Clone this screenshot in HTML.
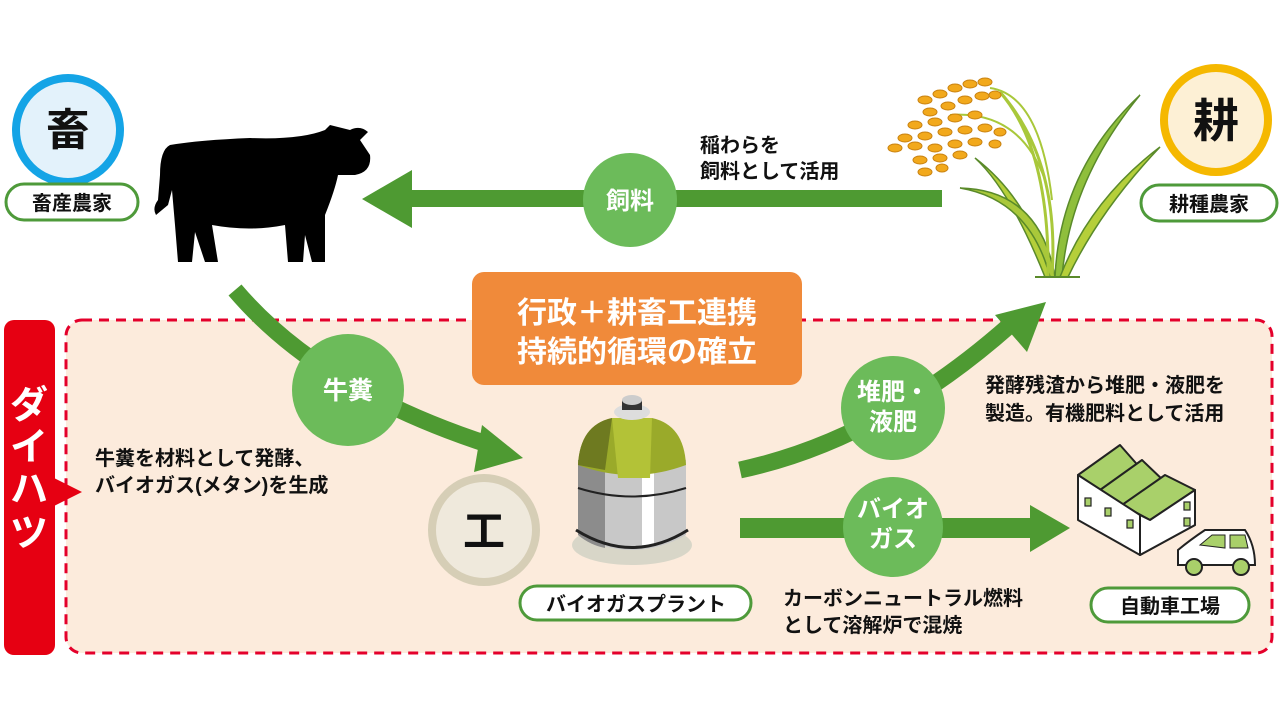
<!DOCTYPE html>
<html><head><meta charset="utf-8"><style>
html,body{margin:0;padding:0;background:#fff;}
svg{display:block;}
text{font-family:"Liberation Sans","Noto Sans CJK JP",sans-serif;font-weight:bold;}
</style></head><body>
<svg width="1280" height="720" viewBox="0 0 1280 720" xmlns="http://www.w3.org/2000/svg">
<rect x="66" y="320" width="1206" height="333" rx="16" fill="#fcebdc" stroke="#e4002b" stroke-width="3" stroke-dasharray="10,7"/>
<rect x="4" y="320" width="51" height="335" rx="10" fill="#e60012"/>
<polygon points="54,478 82,492 54,506" fill="#e60012"/>
<text x="29" y="418" font-size="38" fill="#fff" text-anchor="middle">ダ</text>
<text x="29" y="460" font-size="38" fill="#fff" text-anchor="middle">イ</text>
<text x="29" y="502" font-size="38" fill="#fff" text-anchor="middle">ハ</text>
<text x="29" y="546" font-size="38" fill="#fff" text-anchor="middle">ツ</text>

<circle cx="68" cy="130" r="52" fill="#e3f2fb" stroke="#14a4e6" stroke-width="8"/>
<text x="68" y="145" font-size="44" text-anchor="middle" fill="#111">畜</text>
<rect x="6" y="184" width="132" height="36" rx="18" fill="#fff" stroke="#4e9a3a" stroke-width="3"/>
<text x="72" y="210" font-size="20" text-anchor="middle" fill="#111">畜産農家</text>

<path d="M170,145 Q160,150 160,175 L158,200 Q152,208 156,215 Q162,210 168,205 L172,190 L175,225 L178,262 L192,262 L195,232 L205,262 L218,262 L212,225 Q250,232 285,225 L288,262 L303,262 L305,235 L312,262 L325,262 L325,215 Q335,190 338,175 L355,175 Q372,172 370,155 L360,140 L368,132 Q360,125 350,130 L330,125 L325,130 Q300,140 250,138 Q200,140 170,145 Z" fill="#000"/>

<circle cx="1216" cy="120" r="52" fill="#fdf0d5" stroke="#f5b800" stroke-width="8"/>
<text x="1216" y="137" font-size="46" text-anchor="middle" fill="#111">耕</text>
<rect x="1141" y="185" width="136" height="36" rx="18" fill="#fff" stroke="#4e9a3a" stroke-width="3"/>
<text x="1209" y="211" font-size="20" text-anchor="middle" fill="#111">耕種農家</text>

<g stroke="#5a8a2a" stroke-width="1.5">
<path d="M1050,277 Q1030,200 975,158 Q1010,190 1045,277 Z" fill="#b5cf3a"/>
<path d="M1055,277 Q1040,190 960,188 Q1030,200 1050,277 Z" fill="#a9c83a"/>
<path d="M1055,277 Q1060,170 1140,95 Q1070,180 1062,277 Z" fill="#8fbf3c"/>
<path d="M1060,277 Q1090,200 1160,147 Q1100,210 1068,277 Z" fill="#b5cf3a"/>
<path d="M1052,277 Q1060,160 1000,92 Q1050,150 1048,277" fill="none" stroke="#a9c83a" stroke-width="3"/>
</g>
<path d="M990,88 Q1040,95 1052,200" fill="none" stroke="#a9c83a" stroke-width="2"/>
<path d="M950,115 Q1020,110 1045,180" fill="none" stroke="#a9c83a" stroke-width="2"/>
<line x1="1035" y1="277" x2="1080" y2="277" stroke="#5a8a2a" stroke-width="2"/>
<g fill="#f2a91c" stroke="#c98210" stroke-width="1">
<ellipse cx="925" cy="100" rx="7" ry="4"/><ellipse cx="940" cy="94" rx="7" ry="4"/><ellipse cx="955" cy="88" rx="7" ry="4"/><ellipse cx="970" cy="84" rx="7" ry="4"/><ellipse cx="985" cy="82" rx="7" ry="4"/>
<ellipse cx="930" cy="112" rx="7" ry="4"/><ellipse cx="948" cy="106" rx="7" ry="4"/><ellipse cx="965" cy="100" rx="7" ry="4"/><ellipse cx="982" cy="96" rx="7" ry="4"/><ellipse cx="995" cy="95" rx="6" ry="4"/>
<ellipse cx="915" cy="125" rx="7" ry="4"/><ellipse cx="935" cy="122" rx="7" ry="4"/><ellipse cx="955" cy="118" rx="7" ry="4"/><ellipse cx="975" cy="115" rx="7" ry="4"/>
<ellipse cx="905" cy="138" rx="7" ry="4"/><ellipse cx="925" cy="136" rx="7" ry="4"/><ellipse cx="945" cy="132" rx="7" ry="4"/><ellipse cx="965" cy="130" rx="7" ry="4"/><ellipse cx="985" cy="128" rx="7" ry="4"/><ellipse cx="1000" cy="132" rx="6" ry="4"/>
<ellipse cx="895" cy="148" rx="7" ry="4"/><ellipse cx="915" cy="146" rx="7" ry="4"/><ellipse cx="935" cy="148" rx="7" ry="4"/><ellipse cx="955" cy="144" rx="7" ry="4"/><ellipse cx="975" cy="142" rx="7" ry="4"/><ellipse cx="995" cy="144" rx="6" ry="4"/>
<ellipse cx="920" cy="160" rx="7" ry="4"/><ellipse cx="940" cy="158" rx="7" ry="4"/><ellipse cx="960" cy="155" rx="7" ry="4"/>
<ellipse cx="925" cy="172" rx="7" ry="4"/><ellipse cx="942" cy="168" rx="6" ry="4"/>
</g>

<rect x="405" y="190" width="537" height="17" fill="#4e9a32"/>
<polygon points="362,199 412,170 412,228" fill="#4e9a32"/>
<circle cx="630" cy="200" r="47" fill="#6cbb5a"/>
<text x="630" y="209" font-size="24" fill="#fff" text-anchor="middle">飼料</text>
<text x="700" y="152" font-size="20" fill="#111">稲わらを</text>
<text x="700" y="178" font-size="20" fill="#111">飼料として活用</text>

<path d="M235,290 Q320,390 490,445" fill="none" stroke="#4e9a32" stroke-width="17"/>
<polygon points="523,458 482,425 474,472" fill="#4e9a32"/>
<circle cx="348" cy="390" r="56" fill="#6cbb5a"/>
<text x="348" y="399" font-size="25" fill="#fff" text-anchor="middle">牛糞</text>
<text x="95" y="465" font-size="20" fill="#111">牛糞を材料として発酵、</text>
<text x="95" y="492" font-size="20" fill="#111">バイオガス(メタン)を生成</text>

<rect x="472" y="272" width="330" height="113" rx="12" fill="#f08a3a"/>
<text x="637" y="323" font-size="30" fill="#fff" text-anchor="middle">行政＋耕畜工連携</text>
<text x="637" y="362" font-size="30" fill="#fff" text-anchor="middle">持続的循環の確立</text>

<circle cx="484" cy="530" r="52" fill="#efe9dc" stroke="#d6ceb6" stroke-width="8"/>
<text x="484" y="546" font-size="42" text-anchor="middle" fill="#111">工</text>

<ellipse cx="632" cy="545" rx="60" ry="20" fill="#d8d6c8"/>
<path d="M578,460 L578,535 Q632,565 686,535 L686,460 Z" fill="#c8c8c8"/>
<path d="M578,460 L578,535 Q590,545 605,548 L605,460 Z" fill="#8c8c8c"/>
<rect x="642" y="460" width="12" height="85" fill="#fff"/>
<path d="M578,465 Q580,425 612,418 L652,418 Q684,425 686,465 Q632,485 578,465 Z" fill="#9aaa2a"/>
<path d="M578,465 Q580,425 612,418 L605,470 Z" fill="#6e7a20"/>
<path d="M612,418 L652,418 L650,478 L618,478 Z" fill="#b3c237"/>
<ellipse cx="632" cy="412" rx="18" ry="8" fill="#ddd"/>
<rect x="622" y="400" width="20" height="10" fill="#333"/>
<ellipse cx="632" cy="400" rx="10" ry="5" fill="#ccc"/>
<path d="M578,488 Q632,505 686,488" fill="none" stroke="#222" stroke-width="2"/>
<path d="M576,530 Q632,565 688,530" fill="none" stroke="#222" stroke-width="3"/>
<rect x="520" y="586" width="231" height="34" rx="17" fill="#fff" stroke="#4e9a3a" stroke-width="3"/>
<text x="636" y="611" font-size="20" text-anchor="middle" fill="#111">バイオガスプラント</text>

<path d="M740,470 Q880,440 1010,325" fill="none" stroke="#4e9a32" stroke-width="17"/>
<polygon points="1046,302 995,315 1027,352" fill="#4e9a32"/>
<circle cx="893" cy="408" r="52" fill="#6cbb5a"/>
<text x="893" y="400" font-size="24" fill="#fff" text-anchor="middle">堆肥・</text>
<text x="893" y="430" font-size="24" fill="#fff" text-anchor="middle">液肥</text>
<text x="985" y="392" font-size="20" fill="#111">発酵残渣から堆肥・液肥を</text>
<text x="985" y="420" font-size="20" fill="#111">製造。有機肥料として活用</text>

<rect x="740" y="518" width="295" height="20" fill="#4e9a32"/>
<polygon points="1070,528 1030,505 1030,552" fill="#4e9a32"/>
<circle cx="893" cy="527" r="50" fill="#6cbb5a"/>
<text x="893" y="517" font-size="24" fill="#fff" text-anchor="middle">バイオ</text>
<text x="893" y="547" font-size="24" fill="#fff" text-anchor="middle">ガス</text>
<text x="783" y="605" font-size="20" fill="#111">カーボンニュートラル燃料</text>
<text x="783" y="632" font-size="20" fill="#111">として溶解炉で混焼</text>

<g stroke="#222" stroke-width="2" stroke-linejoin="round">
<polygon points="1078,475 1140,555 1195,525 1195,490 1110,470" fill="#fff"/>
<polygon points="1078,475 1120,445 1142,470 1100,490" fill="#a9d06a"/>
<polygon points="1100,490 1142,460 1165,482 1122,505" fill="#a9d06a"/>
<polygon points="1122,505 1165,475 1195,490 1150,520" fill="#a9d06a"/>
<path d="M1078,475 L1078,520 L1140,555 L1140,515 L1078,475" fill="#fff"/>
<polygon points="1140,555 1195,525 1195,490 1150,520 1140,515" fill="#fff"/>
</g>
<g fill="#a9d06a" stroke="#222" stroke-width="1.2">
<rect x="1085" y="498" width="6" height="8"/><rect x="1105" y="508" width="6" height="8"/><rect x="1127" y="520" width="6" height="8"/>
<rect x="1184" y="502" width="6" height="8"/><rect x="1184" y="518" width="6" height="8"/>
</g>
<path d="M1178,565 L1178,550 Q1190,540 1205,530 L1245,530 Q1255,545 1255,565 Z" fill="#fff" stroke="#222" stroke-width="2"/>
<path d="M1200,545 L1212,535 L1225,535 L1225,548 Z" fill="#a9d06a" stroke="#222" stroke-width="1"/>
<path d="M1230,535 L1245,535 L1248,548 L1230,548 Z" fill="#a9d06a" stroke="#222" stroke-width="1"/>
<circle cx="1194" cy="567" r="8" fill="#a9d06a" stroke="#222" stroke-width="2"/>
<circle cx="1241" cy="567" r="8" fill="#a9d06a" stroke="#222" stroke-width="2"/>
<rect x="1091" y="588" width="158" height="34" rx="17" fill="#fff" stroke="#4e9a3a" stroke-width="3"/>
<text x="1170" y="613" font-size="20" text-anchor="middle" fill="#111">自動車工場</text>
</svg>
</body></html>
